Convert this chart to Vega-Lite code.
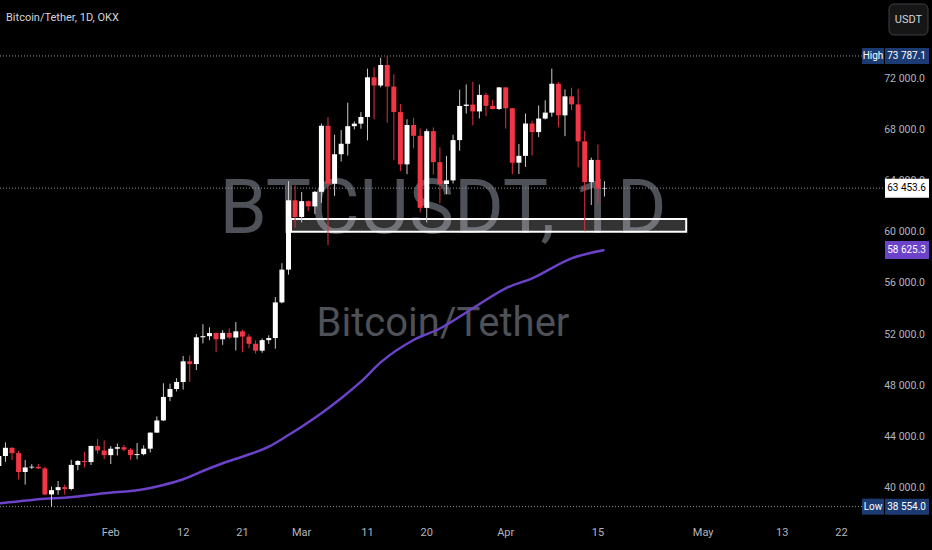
{
  "$schema": "https://vega.github.io/schema/vega-lite/v6.json",
  "width": 862,
  "height": 520,
  "autosize": {"type": "none"},
  "padding": {"left": 0, "top": 0, "right": 70, "bottom": 30},
  "background": "#000000",
  "config": {
    "view": {"stroke": null},
    "font": "Roboto",
    "locale": {"number": {"decimal": ".", "thousands": " ", "grouping": [3], "currency": ["", ""]}}
  },
  "datasets": {
    "candles": [
      {"date": "2024-01-15", "open": 41732, "high": 43400, "low": 41718, "close": 42511},
      {"date": "2024-01-16", "open": 42511, "high": 43578, "low": 42050, "close": 43154},
      {"date": "2024-01-17", "open": 43154, "high": 43198, "low": 42200, "close": 42742},
      {"date": "2024-01-18", "open": 42742, "high": 42930, "low": 40683, "close": 41262},
      {"date": "2024-01-19", "open": 41262, "high": 42195, "low": 40280, "close": 41618},
      {"date": "2024-01-20", "open": 41618, "high": 41872, "low": 41500, "close": 41665},
      {"date": "2024-01-21", "open": 41665, "high": 41890, "low": 41500, "close": 41545},
      {"date": "2024-01-22", "open": 41545, "high": 41689, "low": 39431, "close": 39507},
      {"date": "2024-01-23", "open": 39507, "high": 40129, "low": 38554, "close": 39845},
      {"date": "2024-01-24", "open": 39845, "high": 40555, "low": 39484, "close": 40077},
      {"date": "2024-01-25", "open": 40077, "high": 40288, "low": 39500, "close": 39934},
      {"date": "2024-01-26", "open": 39934, "high": 42209, "low": 39825, "close": 41816},
      {"date": "2024-01-27", "open": 41816, "high": 42200, "low": 41394, "close": 42120},
      {"date": "2024-01-28", "open": 42120, "high": 42842, "low": 41620, "close": 42036},
      {"date": "2024-01-29", "open": 42036, "high": 43305, "low": 41805, "close": 43300},
      {"date": "2024-01-30", "open": 43300, "high": 43838, "low": 42683, "close": 42946},
      {"date": "2024-01-31", "open": 42946, "high": 43745, "low": 42276, "close": 42580},
      {"date": "2024-02-01", "open": 42580, "high": 43285, "low": 41884, "close": 43082},
      {"date": "2024-02-02", "open": 43082, "high": 43488, "low": 42546, "close": 43200},
      {"date": "2024-02-03", "open": 43200, "high": 43381, "low": 42880, "close": 43011},
      {"date": "2024-02-04", "open": 43011, "high": 43120, "low": 42222, "close": 42583},
      {"date": "2024-02-05", "open": 42583, "high": 43530, "low": 42259, "close": 42658},
      {"date": "2024-02-06", "open": 42658, "high": 43345, "low": 42565, "close": 43084},
      {"date": "2024-02-07", "open": 43084, "high": 44368, "low": 42788, "close": 44339},
      {"date": "2024-02-08", "open": 44339, "high": 45614, "low": 44331, "close": 45293},
      {"date": "2024-02-09", "open": 45293, "high": 48200, "low": 45243, "close": 47132},
      {"date": "2024-02-10", "open": 47132, "high": 48170, "low": 46800, "close": 47751},
      {"date": "2024-02-11", "open": 47751, "high": 48592, "low": 47558, "close": 48300},
      {"date": "2024-02-12", "open": 48300, "high": 50334, "low": 47710, "close": 49917},
      {"date": "2024-02-13", "open": 49917, "high": 50368, "low": 48300, "close": 49700},
      {"date": "2024-02-14", "open": 49700, "high": 52043, "low": 49225, "close": 51795},
      {"date": "2024-02-15", "open": 51795, "high": 52816, "low": 51314, "close": 51880},
      {"date": "2024-02-16", "open": 51880, "high": 52572, "low": 51566, "close": 52125},
      {"date": "2024-02-17", "open": 52125, "high": 52168, "low": 50626, "close": 51642},
      {"date": "2024-02-18", "open": 51642, "high": 52356, "low": 51200, "close": 52137},
      {"date": "2024-02-19", "open": 52137, "high": 52488, "low": 51677, "close": 51774},
      {"date": "2024-02-20", "open": 51774, "high": 52985, "low": 50760, "close": 52258},
      {"date": "2024-02-21", "open": 52258, "high": 52373, "low": 50625, "close": 51849},
      {"date": "2024-02-22", "open": 51849, "high": 52060, "low": 50932, "close": 51288},
      {"date": "2024-02-23", "open": 51288, "high": 51548, "low": 50521, "close": 50745},
      {"date": "2024-02-24", "open": 50745, "high": 51698, "low": 50585, "close": 51571},
      {"date": "2024-02-25", "open": 51571, "high": 51950, "low": 51280, "close": 51733},
      {"date": "2024-02-26", "open": 51733, "high": 54938, "low": 50901, "close": 54522},
      {"date": "2024-02-27", "open": 54522, "high": 57588, "low": 54450, "close": 57085},
      {"date": "2024-02-28", "open": 57085, "high": 64000, "low": 56690, "close": 62505},
      {"date": "2024-02-29", "open": 62505, "high": 63676, "low": 60364, "close": 61198},
      {"date": "2024-03-01", "open": 61198, "high": 63155, "low": 60777, "close": 62440},
      {"date": "2024-03-02", "open": 62440, "high": 62484, "low": 61660, "close": 62029},
      {"date": "2024-03-03", "open": 62029, "high": 63230, "low": 61435, "close": 63168},
      {"date": "2024-03-04", "open": 63168, "high": 68500, "low": 62300, "close": 68331},
      {"date": "2024-03-05", "open": 68331, "high": 69000, "low": 59005, "close": 63801},
      {"date": "2024-03-06", "open": 63801, "high": 67637, "low": 62848, "close": 66106},
      {"date": "2024-03-07", "open": 66106, "high": 67992, "low": 65537, "close": 66925},
      {"date": "2024-03-08", "open": 66925, "high": 70136, "low": 66000, "close": 68300},
      {"date": "2024-03-09", "open": 68300, "high": 68673, "low": 68049, "close": 68498},
      {"date": "2024-03-10", "open": 68498, "high": 69400, "low": 68100, "close": 69020},
      {"date": "2024-03-11", "open": 69020, "high": 72800, "low": 67194, "close": 72123},
      {"date": "2024-03-12", "open": 72123, "high": 72900, "low": 68845, "close": 71481},
      {"date": "2024-03-13", "open": 71481, "high": 73637, "low": 71335, "close": 73083},
      {"date": "2024-03-14", "open": 73083, "high": 73787.1, "low": 68563, "close": 71396},
      {"date": "2024-03-15", "open": 71396, "high": 72357, "low": 65630, "close": 69404},
      {"date": "2024-03-16", "open": 69404, "high": 70043, "low": 64780, "close": 65315},
      {"date": "2024-03-17", "open": 65315, "high": 68845, "low": 64545, "close": 68391},
      {"date": "2024-03-18", "open": 68391, "high": 68956, "low": 66566, "close": 67548},
      {"date": "2024-03-19", "open": 67548, "high": 68124, "low": 61555, "close": 61912},
      {"date": "2024-03-20", "open": 61912, "high": 68100, "low": 60775, "close": 67913},
      {"date": "2024-03-21", "open": 67913, "high": 68200, "low": 64529, "close": 65491},
      {"date": "2024-03-22", "open": 65491, "high": 66649, "low": 62260, "close": 63779},
      {"date": "2024-03-23", "open": 63779, "high": 65976, "low": 63000, "close": 64062},
      {"date": "2024-03-24", "open": 64062, "high": 67624, "low": 63820, "close": 67211},
      {"date": "2024-03-25", "open": 67211, "high": 71150, "low": 66385, "close": 69881},
      {"date": "2024-03-26", "open": 69881, "high": 71561, "low": 69280, "close": 69988},
      {"date": "2024-03-27", "open": 69988, "high": 71769, "low": 68359, "close": 69455},
      {"date": "2024-03-28", "open": 69455, "high": 71552, "low": 68903, "close": 70744},
      {"date": "2024-03-29", "open": 70744, "high": 70914, "low": 69076, "close": 69892},
      {"date": "2024-03-30", "open": 69892, "high": 70355, "low": 69601, "close": 69645},
      {"date": "2024-03-31", "open": 69645, "high": 71366, "low": 69562, "close": 71333},
      {"date": "2024-04-01", "open": 71333, "high": 71342, "low": 68110, "close": 69702},
      {"date": "2024-04-02", "open": 69702, "high": 69708, "low": 64533, "close": 65446},
      {"date": "2024-04-03", "open": 65446, "high": 66914, "low": 64559, "close": 65980},
      {"date": "2024-04-04", "open": 65980, "high": 69291, "low": 65113, "close": 68508},
      {"date": "2024-04-05", "open": 68508, "high": 68725, "low": 66011, "close": 67837},
      {"date": "2024-04-06", "open": 67837, "high": 69918, "low": 67447, "close": 68896},
      {"date": "2024-04-07", "open": 68896, "high": 70326, "low": 68824, "close": 69360},
      {"date": "2024-04-08", "open": 69360, "high": 72797, "low": 69043, "close": 71620},
      {"date": "2024-04-09", "open": 71620, "high": 71758, "low": 68210, "close": 69146},
      {"date": "2024-04-10", "open": 69146, "high": 71172, "low": 67518, "close": 70631},
      {"date": "2024-04-11", "open": 70631, "high": 71305, "low": 69567, "close": 70006},
      {"date": "2024-04-12", "open": 70006, "high": 71227, "low": 65086, "close": 67116},
      {"date": "2024-04-13", "open": 67116, "high": 67931, "low": 60100, "close": 63924},
      {"date": "2024-04-14", "open": 63924, "high": 65840, "low": 62134, "close": 65662},
      {"date": "2024-04-15", "open": 65662, "high": 66867, "low": 62274, "close": 63419},
      {"date": "2024-04-16", "open": 63419, "high": 64000, "low": 62800, "close": 63453.6}
    ],
    "ma": [
      {"date": "2024-01-15", "ma": 38820},
      {"date": "2024-01-16", "ma": 38861},
      {"date": "2024-01-22", "ma": 39174},
      {"date": "2024-01-25", "ma": 39252},
      {"date": "2024-01-31", "ma": 39596},
      {"date": "2024-02-06", "ma": 39909},
      {"date": "2024-02-09", "ma": 40245},
      {"date": "2024-02-12", "ma": 40691},
      {"date": "2024-02-15", "ma": 41340},
      {"date": "2024-02-18", "ma": 41942},
      {"date": "2024-02-21", "ma": 42458},
      {"date": "2024-02-25", "ma": 43240},
      {"date": "2024-02-28", "ma": 44154},
      {"date": "2024-03-01", "ma": 44803},
      {"date": "2024-03-04", "ma": 45851},
      {"date": "2024-03-07", "ma": 47024},
      {"date": "2024-03-10", "ma": 48322},
      {"date": "2024-03-13", "ma": 49830},
      {"date": "2024-03-18", "ma": 51582},
      {"date": "2024-03-22", "ma": 52481},
      {"date": "2024-03-27", "ma": 54061},
      {"date": "2024-04-01", "ma": 55624},
      {"date": "2024-04-05", "ma": 56406},
      {"date": "2024-04-11", "ma": 57970},
      {"date": "2024-04-16", "ma": 58625.3}
    ],
    "levels": [
      {"kind": "High", "price": 73787.1},
      {"kind": "Low", "price": 38554.0}
    ],
    "last": [{"price": 63453.6}],
    "malast": [{"price": 58625.3}],
    "zone": [{"start": "2024-02-28T09:00:00Z", "end": "2024-04-28T10:00:00Z", "top": 61050, "bottom": 60050}],
    "priceticks": [
      {"price": 40000}, {"price": 44000}, {"price": 48000}, {"price": 52000}, {"price": 56000},
      {"price": 60000}, {"price": 64000}, {"price": 68000}, {"price": 72000}
    ],
    "monthticks": [
      {"date": "2024-02-01"}, {"date": "2024-03-01"}, {"date": "2024-04-01"}, {"date": "2024-05-01"}
    ],
    "dayticks": [
      {"date": "2024-02-12"}, {"date": "2024-02-21"}, {"date": "2024-03-11"}, {"date": "2024-03-20"},
      {"date": "2024-04-15"}, {"date": "2024-05-13"}, {"date": "2024-05-22"}
    ]
  },
  "layer": [
    {
      "data": {"values": [{}]},
      "mark": {"type": "text", "text": "BTCUSDT, 1D", "fontSize": 76, "color": "#4e5157", "align": "center", "baseline": "alphabetic"},
      "encoding": {"x": {"value": 443}, "y": {"value": 233}}
    },
    {
      "data": {"values": [{}]},
      "mark": {"type": "text", "text": "Bitcoin/Tether", "fontSize": 40, "color": "#4e5157", "align": "center", "baseline": "alphabetic"},
      "encoding": {"x": {"value": 443}, "y": {"value": 336}}
    },
    {
      "data": {"name": "priceticks"},
      "mark": {"type": "text", "color": "#b2b5be", "fontSize": 10.5, "align": "right", "baseline": "middle"},
      "encoding": {
        "y": {"field": "price", "type": "quantitative", "axis": null, "scale": {"domain": [37508.8, 78165.5], "nice": false, "zero": false}},
        "x": {"value": 925},
        "text": {"field": "price", "type": "quantitative", "format": ",.1f"}
      }
    },
    {
      "data": {"name": "monthticks"},
      "mark": {"type": "text", "color": "#b2b5be", "fontSize": 11, "align": "center", "baseline": "middle"},
      "encoding": {
        "x": {"field": "date", "type": "temporal", "axis": null,
              "scale": {"type": "utc", "domain": [{"year": 2024, "month": 1, "date": 15, "hours": 22, "minutes": 25, "utc": true}, {"year": 2024, "month": 5, "date": 24, "hours": 8, "minutes": 40, "utc": true}]}},
        "y": {"value": 533},
        "text": {"field": "date", "type": "temporal", "timeUnit": "utcmonth"}
      }
    },
    {
      "data": {"name": "dayticks"},
      "mark": {"type": "text", "color": "#b2b5be", "fontSize": 11, "align": "center", "baseline": "middle"},
      "encoding": {
        "x": {"field": "date", "type": "temporal", "axis": null,
              "scale": {"type": "utc", "domain": [{"year": 2024, "month": 1, "date": 15, "hours": 22, "minutes": 25, "utc": true}, {"year": 2024, "month": 5, "date": 24, "hours": 8, "minutes": 40, "utc": true}]}},
        "y": {"value": 533},
        "text": {"field": "date", "type": "temporal", "timeUnit": "utcdate"}
      }
    },
    {
      "data": {"name": "zone"},
      "mark": {"type": "rect", "fill": "#ffffff", "fillOpacity": 0.2, "stroke": "#ffffff", "strokeWidth": 2},
      "encoding": {
        "x": {"field": "start", "type": "temporal", "axis": null,
              "scale": {"type": "utc", "domain": [{"year": 2024, "month": 1, "date": 15, "hours": 22, "minutes": 25, "utc": true}, {"year": 2024, "month": 5, "date": 24, "hours": 8, "minutes": 40, "utc": true}]}},
        "x2": {"field": "end"},
        "y": {"field": "top", "type": "quantitative", "axis": null, "scale": {"domain": [37508.8, 78165.5], "nice": false, "zero": false}},
        "y2": {"field": "bottom"}
      }
    },
    {
      "data": {"name": "levels"},
      "mark": {"type": "rule", "color": "#8f929b", "strokeDash": [1, 2], "strokeWidth": 1},
      "encoding": {
        "y": {"field": "price", "type": "quantitative", "axis": null, "scale": {"domain": [37508.8, 78165.5], "nice": false, "zero": false}}
      }
    },
    {
      "data": {"name": "last"},
      "mark": {"type": "rule", "color": "#8f929b", "strokeDash": [1, 2], "strokeWidth": 1},
      "encoding": {
        "y": {"field": "price", "type": "quantitative", "axis": null, "scale": {"domain": [37508.8, 78165.5], "nice": false, "zero": false}},
        "x": {"value": 0}, "x2": {"value": 886}
      }
    },
    {
      "data": {"name": "ma"},
      "mark": {"type": "line", "color": "#6b42c8", "strokeWidth": 2.5, "interpolate": "monotone"},
      "encoding": {
        "x": {"field": "date", "type": "temporal", "axis": null,
              "scale": {"type": "utc", "domain": [{"year": 2024, "month": 1, "date": 15, "hours": 22, "minutes": 25, "utc": true}, {"year": 2024, "month": 5, "date": 24, "hours": 8, "minutes": 40, "utc": true}]}},
        "y": {"field": "ma", "type": "quantitative", "axis": null, "scale": {"domain": [37508.8, 78165.5], "nice": false, "zero": false}}
      }
    },
    {
      "data": {"name": "candles"},
      "mark": {"type": "rule", "strokeWidth": 1},
      "encoding": {
        "x": {"field": "date", "type": "temporal", "axis": null,
              "scale": {"type": "utc", "domain": [{"year": 2024, "month": 1, "date": 15, "hours": 22, "minutes": 25, "utc": true}, {"year": 2024, "month": 5, "date": 24, "hours": 8, "minutes": 40, "utc": true}]}},
        "y": {"field": "low", "type": "quantitative", "axis": null, "scale": {"domain": [37508.8, 78165.5], "nice": false, "zero": false}},
        "y2": {"field": "high"},
        "color": {"condition": {"test": "datum.close >= datum.open", "value": "#c9c9c9"}, "value": "#e0303f"}
      }
    },
    {
      "data": {"name": "candles"},
      "mark": {"type": "bar", "width": 5},
      "encoding": {
        "x": {"field": "date", "type": "temporal", "axis": null,
              "scale": {"type": "utc", "domain": [{"year": 2024, "month": 1, "date": 15, "hours": 22, "minutes": 25, "utc": true}, {"year": 2024, "month": 5, "date": 24, "hours": 8, "minutes": 40, "utc": true}]}},
        "y": {"field": "open", "type": "quantitative", "axis": null, "scale": {"domain": [37508.8, 78165.5], "nice": false, "zero": false}},
        "y2": {"field": "close"},
        "color": {"condition": {"test": "datum.close >= datum.open", "value": "#ffffff"}, "value": "#f23645"}
      }
    },
    {
      "data": {"name": "levels"},
      "mark": {"type": "rule", "color": "#1b3b72", "strokeWidth": 16},
      "encoding": {
        "y": {"field": "price", "type": "quantitative", "axis": null, "scale": {"domain": [37508.8, 78165.5], "nice": false, "zero": false}},
        "x": {"value": 862}, "x2": {"value": 884}
      }
    },
    {
      "data": {"name": "levels"},
      "mark": {"type": "rule", "color": "#1b3b72", "strokeWidth": 16},
      "encoding": {
        "y": {"field": "price", "type": "quantitative", "axis": null, "scale": {"domain": [37508.8, 78165.5], "nice": false, "zero": false}},
        "x": {"value": 885}, "x2": {"value": 929}
      }
    },
    {
      "data": {"name": "last"},
      "mark": {"type": "rule", "color": "#ffffff", "strokeWidth": 19},
      "encoding": {
        "y": {"field": "price", "type": "quantitative", "axis": null, "scale": {"domain": [37508.8, 78165.5], "nice": false, "zero": false}},
        "x": {"value": 885}, "x2": {"value": 929}
      }
    },
    {
      "data": {"name": "malast"},
      "mark": {"type": "rule", "color": "#6b42c8", "strokeWidth": 18},
      "encoding": {
        "y": {"field": "price", "type": "quantitative", "axis": null, "scale": {"domain": [37508.8, 78165.5], "nice": false, "zero": false}},
        "x": {"value": 885}, "x2": {"value": 929}
      }
    },
    {
      "data": {"name": "levels"},
      "mark": {"type": "text", "color": "#ffffff", "fontSize": 10, "align": "center", "baseline": "middle"},
      "encoding": {
        "y": {"field": "price", "type": "quantitative", "axis": null, "scale": {"domain": [37508.8, 78165.5], "nice": false, "zero": false}},
        "x": {"value": 873},
        "text": {"field": "kind"}
      }
    },
    {
      "data": {"name": "levels"},
      "mark": {"type": "text", "color": "#ffffff", "fontSize": 10, "align": "right", "baseline": "middle"},
      "encoding": {
        "y": {"field": "price", "type": "quantitative", "axis": null, "scale": {"domain": [37508.8, 78165.5], "nice": false, "zero": false}},
        "x": {"value": 926},
        "text": {"field": "price", "type": "quantitative", "format": ",.1f"}
      }
    },
    {
      "data": {"name": "last"},
      "mark": {"type": "text", "color": "#000000", "fontSize": 10, "align": "right", "baseline": "middle"},
      "encoding": {
        "y": {"field": "price", "type": "quantitative", "axis": null, "scale": {"domain": [37508.8, 78165.5], "nice": false, "zero": false}},
        "x": {"value": 926},
        "text": {"field": "price", "type": "quantitative", "format": ",.1f"}
      }
    },
    {
      "data": {"name": "malast"},
      "mark": {"type": "text", "color": "#ffffff", "fontSize": 10, "align": "right", "baseline": "middle"},
      "encoding": {
        "y": {"field": "price", "type": "quantitative", "axis": null, "scale": {"domain": [37508.8, 78165.5], "nice": false, "zero": false}},
        "x": {"value": 926},
        "text": {"field": "price", "type": "quantitative", "format": ",.1f"}
      }
    },
    {
      "data": {"values": [{}]},
      "mark": {"type": "rect", "fill": "#161616", "stroke": "#3d3f45", "strokeWidth": 1, "cornerRadius": 5},
      "encoding": {"x": {"value": 889}, "x2": {"value": 928}, "y": {"value": 4}, "y2": {"value": 35}}
    },
    {
      "data": {"values": [{}]},
      "mark": {"type": "text", "text": "USDT", "fontSize": 11, "color": "#d1d4dc", "align": "center", "baseline": "middle"},
      "encoding": {"x": {"value": 908.5}, "y": {"value": 20}}
    },
    {
      "data": {"values": [{}]},
      "mark": {"type": "text", "text": "Bitcoin/Tether, 1D, OKX", "fontSize": 11, "color": "#d1d4dc", "align": "left", "baseline": "middle"},
      "encoding": {"x": {"value": 6}, "y": {"value": 18}}
    }
  ]
}
